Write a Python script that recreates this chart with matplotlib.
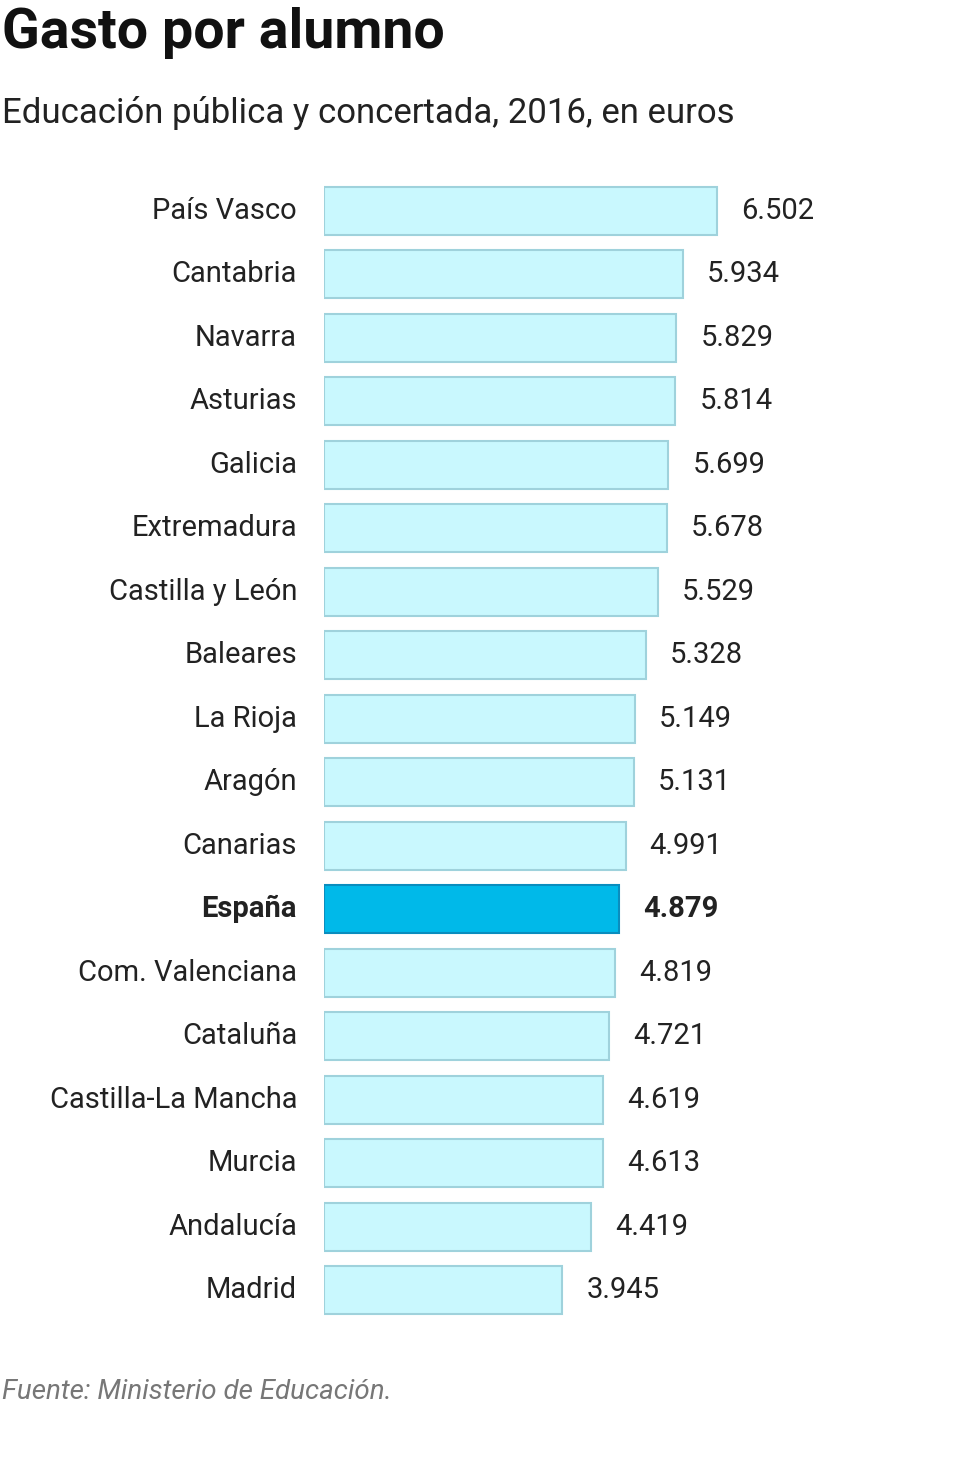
import matplotlib
matplotlib.use("Agg")
import matplotlib.pyplot as plt
from matplotlib.transforms import offset_copy

regions = ["País Vasco", "Cantabria", "Navarra", "Asturias", "Galicia", "Extremadura",
           "Castilla y León", "Baleares", "La Rioja", "Aragón", "Canarias", "España",
           "Com. Valenciana", "Cataluña", "Castilla-La Mancha", "Murcia", "Andalucía", "Madrid"]
values = [6502, 5934, 5829, 5814, 5699, 5678, 5529, 5328, 5149, 5131, 4991, 4879,
          4819, 4721, 4619, 4613, 4419, 3945]
highlight = "España"

plt.rcParams["font.family"] = "Roboto"
fig = plt.figure(figsize=(9.8, 14.58), dpi=100)
ax = fig.add_axes([324/980, 1 - 1322/1458, 656/980, (1322 - 179)/1458])
n = len(regions)
ys = list(range(n))
for y, r, v in zip(ys, regions, values):
    hl = r == highlight
    ax.barh(y, v, height=0.76, color="#00B9E9" if hl else "#C9F8FE",
            edgecolor="#0A8DBE" if hl else "#9FD2DC", linewidth=1.5)
    t = offset_copy(ax.transData, fig=fig, x=24, y=0, units="dots")
    ax.text(v, y, f"{v/1000:.3f}", transform=t, va="center", ha="left", fontsize=21,
            color="#222222", fontweight="bold" if hl else "normal")
    t2 = offset_copy(ax.transData, fig=fig, x=-27, y=0, units="dots")
    ax.text(0, y, r, transform=t2, va="center", ha="right", fontsize=21,
            color="#222222", fontweight="bold" if hl else "normal")
ax.set_xlim(0, 656 / 0.06044)
ax.set_ylim(n - 0.5, -0.5)
ax.axis("off")

fig.text(2/980, 1 - 33/1458, "Gasto por alumno", fontsize=40, fontweight="bold",
         va="center", ha="left", color="#111111")
fig.text(2/980, 1 - 113/1458, "Educación pública y concertada, 2016, en euros", fontsize=25,
         va="center", ha="left", color="#222222")
fig.text(2/980, 1 - 1392/1458, "Fuente: Ministerio de Educación.", fontsize=20,
         style="italic", va="center", ha="left", color="#777777")
fig.savefig("out.png", dpi=100, facecolor="white")
